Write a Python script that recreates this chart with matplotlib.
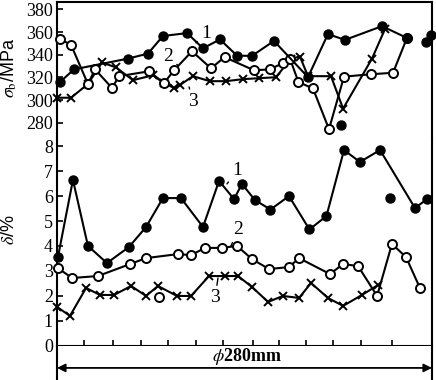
import matplotlib
matplotlib.use("Agg")
import matplotlib.pyplot as plt

plt.rcParams['mathtext.fontset'] = 'stix'
plt.rcParams['font.family'] = 'Liberation Serif'

# position across the billet, mm (0 .. 280)
# --- tensile strength, MPa ---
x_sig1 = [2.2, 12.7, 53.0, 67.9, 79.1, 97.1, 109.0, 121.7, 134.4, 145.6, 162.0, 187.4, 202.3, 215.0, 242.7, 261.3]
sig1 = [315.9, 327.1, 336.6, 341.0, 356.5, 359.1, 345.7, 353.5, 339.2, 339.0, 352.2, 320.2, 358.2, 353.1, 365.2, 354.8]
x_sig1_extra = [212.1, 275.5, 279.6]
sig1_extra = [277.8, 350.9, 357.4]

x_sig2 = [2.2, 10.5, 23.1, 28.4, 41.1, 46.3, 68.7, 79.9, 87.4, 100.8, 115.0, 125.1, 147.1, 159.0,
          168.7, 173.9, 180.3, 191.1, 203.1, 214.3, 234.5, 250.9, 261.3]
sig2 = [353.9, 348.7, 314.2, 327.1, 310.7, 321.1, 325.4, 315.0, 326.3, 343.1, 328.0, 337.9, 326.3, 327.1,
        332.7, 336.6, 315.9, 310.3, 274.4, 320.7, 322.8, 324.1, 354.8]

x_sig3 = [0.0, 10.5, 23.1, 33.6, 44.1, 56.7, 71.7, 79.9, 87.4, 91.8, 101.5, 114.2, 126.2, 138.9,
          150.8, 163.5, 174.7, 181.4, 187.4, 204.6, 213.6, 235.2, 244.9]
sig3 = [302.1, 302.1, 314.2, 333.2, 328.8, 317.6, 321.9, 315.0, 310.7, 313.3, 321.1, 316.7, 316.7, 318.5,
        319.3, 320.2, 336.6, 338.4, 321.1, 321.1, 292.5, 336.6, 362.6]

# --- elongation, % ---
x_d1 = [0.7, 11.9, 23.1, 37.3, 53.8, 66.5, 79.1, 92.6, 109.0, 121.0, 132.2, 138.1, 147.8, 159.4,
        173.2, 188.5, 201.2, 214.3, 226.2, 241.2, 267.3, 276.3]
d1 = [3.55, 6.65, 4.00, 3.31, 3.96, 4.76, 5.92, 5.92, 4.76, 6.61, 5.88, 6.49, 5.84, 5.46,
      6.00, 4.66, 5.20, 7.85, 7.37, 7.85, 5.52, 5.88]
x_d1_extra = [248.6]
d1_extra = [5.94]

x_d2 = [0.7, 11.2, 30.6, 54.5, 66.5, 90.3, 100.1, 110.5, 123.2, 134.4, 145.6, 158.3, 173.2, 180.7,
        203.8, 213.6, 224.8, 239.0, 250.1, 260.6, 271.0]
d2 = [3.11, 2.71, 2.79, 3.27, 3.51, 3.67, 3.63, 3.92, 3.92, 4.00, 3.47, 3.07, 3.15, 3.51,
      2.87, 3.27, 3.19, 1.99, 4.08, 3.55, 2.31]
x_d2_extra = [76.2]
d2_extra = [1.95]

x_d3 = [0.0, 9.7, 21.7, 32.1, 42.6, 55.3, 66.5, 75.4, 89.6, 100.1, 113.5, 125.4, 135.2, 145.6,
        157.6, 168.7, 180.7, 189.7, 202.3, 213.6, 227.7, 239.7]
d3 = [1.55, 1.19, 2.31, 2.03, 2.03, 2.39, 1.99, 2.39, 1.99, 1.99, 2.79, 2.79, 2.79, 2.35,
      1.75, 1.99, 1.91, 2.51, 1.91, 1.59, 2.03, 2.43]

sig_ticks = [280, 300, 320, 340, 360, 380]
d_ticks = [0, 1, 2, 3, 4, 5, 6, 7, 8]
x_ticks = [20, 42, 63, 83, 104, 124, 146, 166, 186, 206, 227, 250]

W_PX, H_PX = 436, 380
left, right = 57 / W_PX, 432 / W_PX
y_top, y_mid, y_bot = 2, 138, 345.5

fig = plt.figure(figsize=(W_PX / 100, H_PX / 100), dpi=100)
ax1 = fig.add_axes([left, 1 - y_mid / H_PX, right - left, (y_mid - y_top) / H_PX])
ax2 = fig.add_axes([left, 1 - y_bot / H_PX, right - left, (y_bot - y_mid) / H_PX])
ax3 = fig.add_axes([left, 0, right - left, 1 - y_bot / H_PX])

filled = dict(color='k', lw=1.5, marker='o', ms=6.5, mfc='k', mec='k', clip_on=False, zorder=4)
opened = dict(color='k', lw=1.5, marker='o', ms=6.5, mfc='white', mec='k', mew=1.4, clip_on=False, zorder=3)
cross = dict(color='k', lw=1.5, marker='x', ms=6, mew=1.4, clip_on=False, zorder=2)

ax1.plot(x_sig3, sig3, **cross)
ax1.plot(x_sig2, sig2, **opened)
ax1.plot(x_sig1, sig1, **filled)
ax1.plot(x_sig1_extra, sig1_extra, ls='none', **{k: v for k, v in filled.items() if k != 'lw'})

ax2.plot(x_d3, d3, **cross)
ax2.plot(x_d2, d2, **opened)
ax2.plot(x_d2_extra, d2_extra, ls='none', **{k: v for k, v in opened.items() if k != 'lw'})
ax2.plot(x_d1, d1, **filled)
ax2.plot(x_d1_extra, d1_extra, ls='none', **{k: v for k, v in filled.items() if k != 'lw'})

ax1.set_xlim(0, 280)
ax2.set_xlim(0, 280)
ax3.set_xlim(0, 280)
ax1.set_ylim(266.6, 386.5)
ax2.set_ylim(0, (y_bot - y_mid) / 24.9)
ax3.set_ylim(0, 1)

for ax in (ax1, ax2, ax3):
    for s in ax.spines.values():
        s.set_linewidth(1.5)
ax1.spines['bottom'].set_visible(False)
ax2.spines['top'].set_visible(False)
ax3.spines['top'].set_visible(False)
ax3.spines['bottom'].set_visible(False)

ax1.set_xticks([])
ax1.set_yticks(sig_ticks)
ax1.tick_params(axis='y', direction='in', length=4, width=1.2, labelsize=13, pad=3)
ax2.set_yticks(d_ticks)
ax2.tick_params(axis='y', direction='in', length=4, width=1.2, labelsize=13, pad=3)
ax2.set_xticks(x_ticks)
ax2.set_xticklabels([])
ax2.tick_params(axis='x', direction='in', length=4, width=1.2)
ax3.set_xticks([])
ax3.set_yticks([])

# curve numbers
lab = dict(fontsize=14, ha='center', va='center',
           arrowprops=dict(arrowstyle='-', lw=1, color='k', shrinkA=1, shrinkB=0))
ax1.annotate('1', xy=(103.8, 350.4), xytext=(111.3, 359.1), **lab)
ax1.annotate('2', xy=(90.3, 330.6), xytext=(82.9, 338.3), **lab)
ax1.annotate('3', xy=(98.6, 311.6), xytext=(101.5, 298.6), **lab)
ax2.annotate('1', xy=(126.9, 6.49), xytext=(134.4, 7.01), **lab)
ax2.annotate('2', xy=(129.9, 4.00), xytext=(135.2, 4.64), **lab)
ax2.annotate('3', xy=(120.2, 2.71), xytext=(118.0, 1.91), **lab)

# diameter dimension arrow
ax3.annotate('', xy=(0, 0.35), xytext=(280, 0.35),
             arrowprops=dict(arrowstyle='<|-|>', lw=1.3, color='k', shrinkA=0, shrinkB=0,
                             mutation_scale=12))
ax3.text(142, 0.68, r'$\phi$280mm', ha='center', va='center', fontsize=13, fontweight='bold')

fig.text(9 / W_PX, 1 - 68 / H_PX, r'$\sigma_{\rm b}$/MPa', rotation=90, ha='center', va='center',
         fontsize=13, family='Liberation Sans')
fig.text(9 / W_PX, 1 - 230 / H_PX, r'$\delta$/%', rotation=90, ha='center', va='center',
         fontsize=13, family='Liberation Sans')

fig.savefig('out.png', dpi=100)
